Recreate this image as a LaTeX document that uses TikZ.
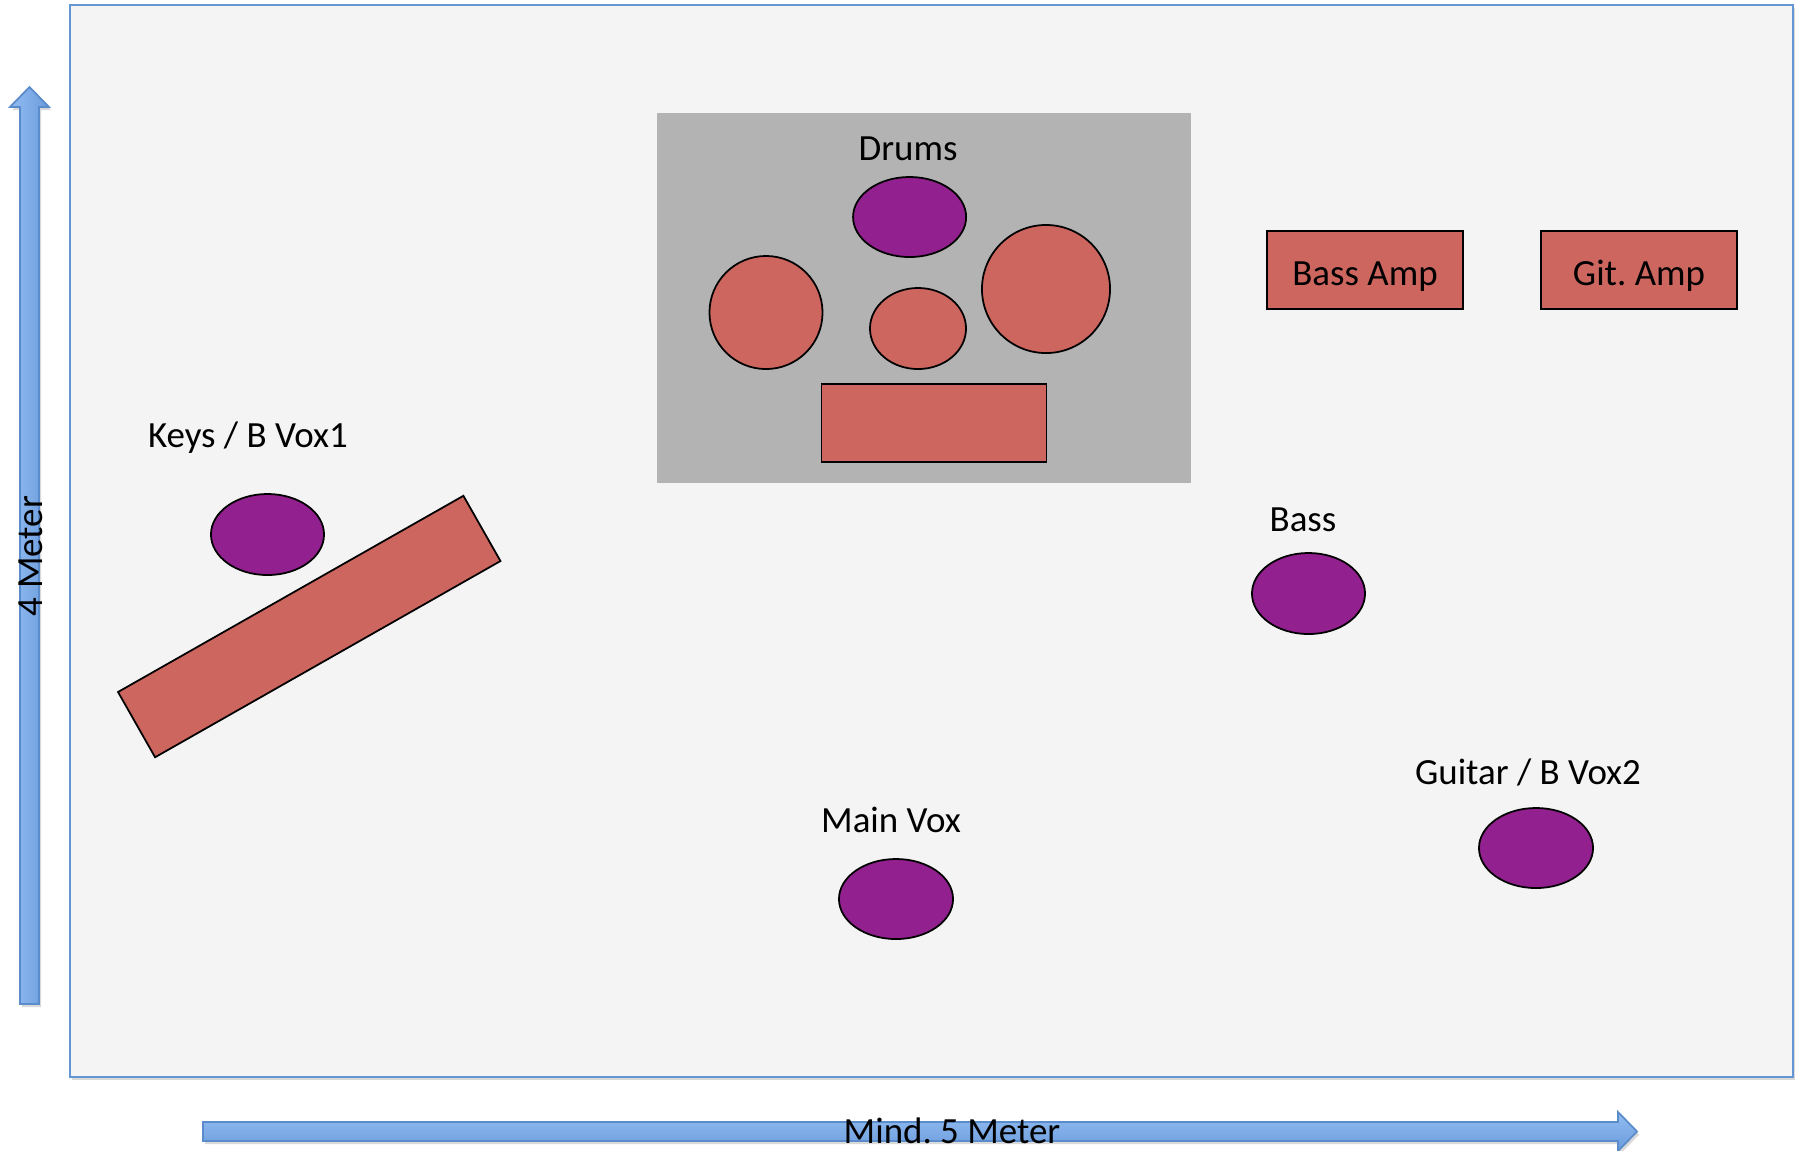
\documentclass[tikz,border=0pt]{standalone}
\usepackage{fontspec}
\setmainfont{Carlito}
\usetikzlibrary{shapes.geometric,shadows}
\frenchspacing

\definecolor{stagefill}{HTML}{F4F4F4}
\definecolor{stageline}{HTML}{6396D3}
\definecolor{drumgray}{HTML}{B3B3B3}
\definecolor{gearred}{HTML}{CD665F}
\definecolor{vox}{HTML}{92208F}
\definecolor{arrlight}{HTML}{93BDF2}
\definecolor{arrdark}{HTML}{6A9BDB}
\definecolor{arrline}{HTML}{5A8CCB}

\begin{document}
\begin{tikzpicture}[
    x=0.01cm, y=-0.01cm,
    font=\fontsize{10.5}{12}\selectfont,
    gear/.style={draw, line width=0.5pt, fill=gearred, inner sep=0pt, text height=8.8pt, text depth=0pt},
    player/.style={ellipse, draw, line width=0.5pt, fill=vox, inner sep=0pt},
    drum/.style={ellipse, draw, line width=0.5pt, fill=gearred, inner sep=0pt},
    lbl/.style={inner sep=0pt},
    dim/.style={draw=arrline, line width=0.5pt, drop shadow={shadow xshift=0.6pt, shadow yshift=-0.9pt, opacity=0.3}}
]
\useasboundingbox (0,0) rectangle (1803,1150);

% stage
\draw[draw=stageline, line width=0.6pt, fill=stagefill,
      drop shadow={shadow xshift=0.6pt, shadow yshift=-0.9pt, opacity=0.3}]
    (70,5) rectangle (1793,1077);

% dimension arrows
\shadedraw[dim, left color=arrlight, right color=arrdark]
    (20,1004) -- (20,107) -- (10,107) -- (29.5,87) -- (49,107) -- (39,107) -- (39,1004) -- cycle;
\shadedraw[dim, top color=arrlight, bottom color=arrdark]
    (203,1122) -- (1618,1122) -- (1618,1112) -- (1637,1131.5) -- (1618,1151) -- (1618,1141) -- (203,1141) -- cycle;
\node[lbl, rotate=90] (height) at (31,556) {4 Meter};
\node[lbl] (width) at (952,1131) {Mind. 5 Meter};

% drum riser
\fill[drumgray] (657,113) rectangle (1191,483);
\node[lbl] (drums) at (908,149) {Drums};
\node[player, minimum width=1.13cm, minimum height=0.80cm] (drummer) at (909.6,217) {};
\node[drum, minimum width=1.13cm, minimum height=1.13cm] (tomL) at (766,312.5) {};
\node[drum, minimum width=0.96cm, minimum height=0.81cm] (snare) at (918,328.5) {};
\node[drum, minimum width=1.28cm, minimum height=1.28cm] (floor) at (1046,289) {};
\node[gear, minimum width=2.25cm, minimum height=0.78cm] (kick) at (934,423) {};

% amps
\node[gear, minimum width=1.96cm, minimum height=0.78cm] (bassamp) at (1365,270) {Bass Amp};
\node[gear, minimum width=1.96cm, minimum height=0.78cm] (gitamp) at (1639,270) {Git. Amp};

% keys
\node[lbl] (keyslbl) at (248,438) {Keys / B Vox1};
\node[player, minimum width=1.13cm, minimum height=0.81cm] (keys) at (267.5,534.5) {};
\node[gear, rotate=29.6, minimum width=3.97cm, minimum height=0.75cm] (keyboard) at (309.25,626.5) {};

% bass
\node[lbl] (basslbl) at (1303,520) {Bass};
\node[player, minimum width=1.13cm, minimum height=0.81cm] (bass) at (1308.5,593.5) {};

% guitar
\node[lbl] (gitlbl) at (1528,772) {Guitar / B Vox2};
\node[player, minimum width=1.14cm, minimum height=0.80cm] (guitar) at (1536,848) {};

% main vox
\node[lbl] (voxlbl) at (891,820) {Main Vox};
\node[player, minimum width=1.14cm, minimum height=0.80cm] (mainvox) at (896,899) {};
\end{tikzpicture}
\end{document}
